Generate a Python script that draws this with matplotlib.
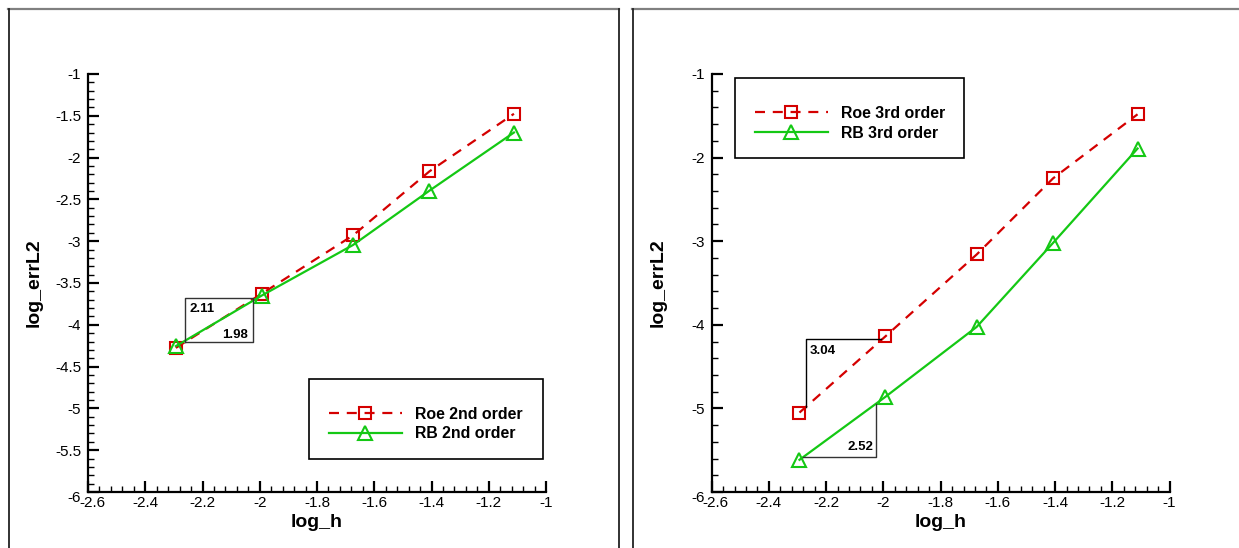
import matplotlib
matplotlib.use("Agg")
import matplotlib.pyplot as plt
from matplotlib.ticker import FixedLocator, MultipleLocator, FixedFormatter
from matplotlib.lines import Line2D
from matplotlib.transforms import ScaledTranslation

plt.rcParams['font.family'] = ['Liberation Sans', 'DejaVu Sans']

# ---------------- data ----------------
log_h = [-2.293, -1.993, -1.674, -1.407, -1.112]

roe2 = [-4.276, -3.628, -2.930, -2.164, -1.476]
rb2 = [-4.255, -3.650, -3.045, -2.395, -1.700]

roe3 = [-5.050, -4.139, -3.159, -2.248, -1.482]
rb3 = [-5.615, -4.862, -4.025, -3.020, -1.892]

series_labels_left = ["Roe 2nd order", "RB 2nd order"]
series_labels_right = ["Roe 3rd order", "RB 3rd order"]

x_ticks = [-2.6, -2.4, -2.2, -2.0, -1.8, -1.6, -1.4, -1.2, -1.0]
x_ticklabels = ["-2.6", "-2.4", "-2.2", "-2", "-1.8", "-1.6", "-1.4", "-1.2", "-1"]
y_ticks_left = [-6, -5.5, -5, -4.5, -4, -3.5, -3, -2.5, -2, -1.5, -1]
y_ticklabels_left = ["-6", "-5.5", "-5", "-4.5", "-4", "-3.5", "-3", "-2.5", "-2", "-1.5", "-1"]
y_ticks_right = [-6, -5, -4, -3, -2, -1]
y_ticklabels_right = ["-6", "-5", "-4", "-3", "-2", "-1"]

# slope annotation boxes / triangles (data coords)
slope_box_left = (-2.261, -4.206, -2.022, -3.683)   # x0, y0, x1, y1
slope_left_labels = ["2.11", "1.98"]
tri_roe3 = [(-2.269, -4.987), (-2.269, -4.170), (-2.009, -4.170)]
tri_rb3 = [(-2.281, -5.578), (-2.024, -5.578), (-2.024, -4.947)]
slope_right_labels = ["3.04", "2.52"]

RED = '#d40000'
GREEN = '#14c814'

W, H = 1239, 548
fig = plt.figure(figsize=(W / 100, H / 100), dpi=100)

# panel frames (in pixels -> figure fraction)
def fline(x0, y0, x1, y1, color, lw):
    fig.add_artist(Line2D([x0 / W, x1 / W], [1 - y0 / H, 1 - y1 / H],
                          transform=fig.transFigure, color=color, lw=lw))

fline(8, 9, 619, 9, '#808080', 1.6)
fline(8.5, 9, 8.5, 548, '#222222', 1.3)
fline(619, 9, 619, 548, '#222222', 1.3)
fline(632, 9, 1239, 9, '#808080', 1.6)
fline(632.5, 9, 632.5, 548, '#222222', 1.3)

def make_axes(left_px, y_ticks, y_labels, y_minor):
    ax = fig.add_axes([left_px / W, (H - 492) / H, 458 / W, 418 / H])
    ax.set_xlim(-2.6, -1.0)
    ax.set_ylim(-6, -1)
    for s in ('top', 'right'):
        ax.spines[s].set_visible(False)
    for s in ('left', 'bottom'):
        ax.spines[s].set_linewidth(1.6)
        ax.spines[s].set_color('black')
    ax.xaxis.set_major_locator(FixedLocator(x_ticks))
    ax.xaxis.set_major_formatter(FixedFormatter(x_ticklabels))
    ax.xaxis.set_minor_locator(MultipleLocator(0.04))
    ax.yaxis.set_major_locator(FixedLocator(y_ticks))
    ax.yaxis.set_major_formatter(FixedFormatter(y_labels))
    ax.yaxis.set_minor_locator(MultipleLocator(y_minor))
    ax.tick_params(which='major', direction='in', length=8, width=1.6,
                   labelsize=11, color='black')
    ax.tick_params(which='minor', direction='in', length=4, width=1.0, color='black')
    ax.tick_params(axis='y', which='major', pad=5)
    ax.tick_params(axis='x', which='major', pad=3)
    ax.set_xlabel('log_h', fontsize=14, fontweight='bold')
    ax.set_ylabel('log_errL2', fontsize=14, fontweight='bold')
    ax.xaxis.set_label_coords(0.5, -0.052)
    ax.yaxis.set_label_coords(-0.098, 0.5)
    return ax

def nudge_corner_labels(ax):
    fig.canvas.draw()
    xl = ax.xaxis.get_major_ticks()[0].label1
    xl.set_transform(xl.get_transform() + ScaledTranslation(4 / 100, 0, fig.dpi_scale_trans))
    yl = ax.yaxis.get_major_ticks()[0].label1
    yl.set_transform(yl.get_transform() + ScaledTranslation(0, -5 / 100, fig.dpi_scale_trans))

def plot_series(ax, roe, rb, labels):
    l1, = ax.plot(log_h, roe, color=RED, lw=1.6, dashes=(4.5, 3.5),
                  marker='s', ms=8.3, mfc='none', mec=RED, mew=1.5, label=labels[0],
                  clip_on=False)
    l2, = ax.plot(log_h, rb, color=GREEN, lw=1.6, marker='^', ms=10.5,
                  mfc='none', mec=GREEN, mew=1.5, label=labels[1], clip_on=False)
    return l1, l2

leg_kw = dict(loc='upper left', frameon=False, borderpad=0, borderaxespad=0,
              handlelength=4.6, handletextpad=0.82, numpoints=1,
              prop={'size': 11.4, 'weight': 'bold'})

# ---------------- left panel ----------------
axL = make_axes(88, y_ticks_left, y_ticklabels_left, 0.1)
hL = plot_series(axL, roe2, rb2, series_labels_left)
x0, y0, x1, y1 = slope_box_left
axL.plot([x0, x1, x1, x0, x0], [y0, y0, y1, y1, y0], color='#333333', lw=1.0)
axL.annotate(slope_left_labels[0], xy=(x0, y1), xytext=(3, -3.6), textcoords='offset points',
             ha='left', va='top', fontsize=9.5, fontweight='bold')
axL.annotate(slope_left_labels[1], xy=(x1, y0), xytext=(-4, 3.2), textcoords='offset points',
             ha='right', va='baseline', fontsize=9.5, fontweight='bold')
axL.add_patch(plt.Rectangle((0.4825, 0.079), 0.512, 0.191, transform=axL.transAxes,
                            fill=False, ec='black', lw=1.2, clip_on=False))
axL.legend(handles=hL, bbox_to_anchor=(0.526, 0.204), labelspacing=0.30, **leg_kw)

# ---------------- right panel ----------------
axR = make_axes(711.6, y_ticks_right, y_ticklabels_right, 0.2)
hR = plot_series(axR, roe3, rb3, series_labels_right)
axR.plot([p[0] for p in tri_roe3], [p[1] for p in tri_roe3], color='black', lw=1.0)
axR.plot([p[0] for p in tri_rb3], [p[1] for p in tri_rb3], color='#333333', lw=1.0)
axR.annotate(slope_right_labels[0], xy=tri_roe3[1], xytext=(2.2, -4.2), textcoords='offset points',
             ha='left', va='top', fontsize=9.5, fontweight='bold')
axR.annotate(slope_right_labels[1], xy=tri_rb3[1], xytext=(-2.5, 4.8), textcoords='offset points',
             ha='right', va='baseline', fontsize=9.5, fontweight='bold')
axR.add_patch(plt.Rectangle((0.0517, 0.799), 0.5003, 0.1907, transform=axR.transAxes,
                            fill=False, ec='black', lw=1.2, clip_on=False))
axR.legend(handles=hR, bbox_to_anchor=(0.0947, 0.924), labelspacing=0.33, **leg_kw)

nudge_corner_labels(axL)
nudge_corner_labels(axR)

fig.savefig('out.png', dpi=100)
